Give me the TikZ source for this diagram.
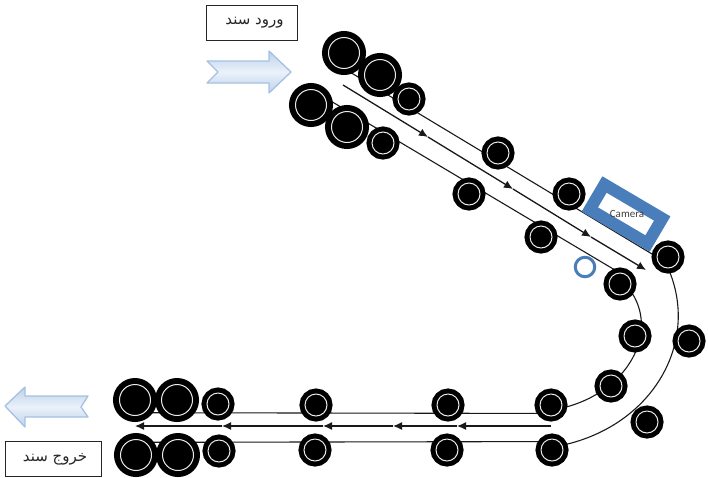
\documentclass[tikz,border=0pt]{standalone}
\usepackage{fontspec}
\setmainfont{Carlito}
\newfontfamily\arabicfont[Script=Arabic]{DejaVu Sans}
\TeXXeTstate=1
\definecolor{camerablue}{RGB}{74,126,187}
\definecolor{arrowedge}{RGB}{165,193,226}
\definecolor{arrowfill}{RGB}{190,210,235}
\definecolor{arrowmid}{RGB}{234,241,250}
\usetikzlibrary{arrows.meta,backgrounds}
\tikzset{
	bigwheel/.style={
		draw=black, circle, fill=black, inner sep=0pt, outer sep=0pt,
		minimum size=31pt, line width=6pt,
		double=black!8, double distance=1pt
	},
	smallwheel/.style={
		draw=black, circle, fill=black, inner sep=0pt, outer sep=0pt,
		minimum size=22pt, line width=5pt,
		double=black!8, double distance=1pt
	},
	textbox/.style={
		draw=black!85, rectangle, line width=1pt, inner sep=0pt,
		minimum width=#1, minimum height=35pt,
		text=black!85, font=\arabicfont\fontsize{15}{17}\selectfont
	},
	camerabox/.style={
		draw=camerablue, rectangle, line width=12pt, fill=white,
		minimum width=67pt, minimum height=29pt, inner sep=0pt
	},
	marker/.style={
		draw=camerablue, circle, line width=3pt, fill=white,
		minimum size=19.5pt, inner sep=0pt, outer sep=0pt
	},
	rail_line/.style={line width=1.1pt, black!90},
	flow_line/.style={line width=1.3pt, black!90, -{Latex[length=9pt,width=8pt]}},
	block_arrow/.style={
		draw=arrowedge, line width=1.3pt, line join=round,
		top color=arrowfill, bottom color=arrowfill, middle color=arrowmid
	}
}

\begin{document}
\begin{tikzpicture}[x=1pt,y=-1pt]
  \useasboundingbox (0,0) rectangle (708,477);
  % wheels
  \foreach \name/\px/\py in {A1/344/53,A2/380/75,B1/311/105,B2/347/127,
    L1/135/400,L2/177/400,M1/136/455,M2/178/455}
    \node[bigwheel] (\name) at (\px,\py) {};
  \foreach \name/\px/\py in {A3/409/99,A4/498/153,A5/569/194,A6/668/257,A7/689/341,A8/647/422,
    B3/383/143,B4/469/194,B5/541/237,B6/620/284,B7/635/336,B8/611/386,
    C1/551/405,C2/448/405,C3/316/405,C4/218/404,
    D1/552/450,D2/447/450,D3/315/450,D4/219/451}
    \node[smallwheel] (\name) at (\px,\py) {};
  % camera and marker
  \node[camerabox,rotate=-30.5] (cam) at (626,214) {};
  \node[text=black!75,font=\fontsize{11}{12}\selectfont] (camtext) at (627,214) {Camera};
  \node[marker] (dot) at (585,267) {};
  % labels
  \node[textbox=91pt] (in) at (251.5,23) {\hspace*{6pt}\beginR ورود سند\endR};
  \node[textbox=96pt] (out) at (53,459) {\hspace*{4pt}\beginR خروج سند\endR};
  % block arrows
  \path[block_arrow] (207,61) -- (269,61) -- (269,51) -- (291,72) -- (269,93)
    -- (269,83) -- (207,83) -- (218,72) -- cycle;
  \path[block_arrow] (5,406) -- (25,387) -- (25,396) -- (88,396) -- (81,407)
    -- (88,417) -- (25,417) -- (25,427) -- cycle;
  % rails and flow
  \coordinate (P1) at (343,85);
  \coordinate (P2) at (428,137);
  \coordinate (P3) at (513,189);
  \coordinate (P4) at (591,237);
  \coordinate (P5) at (646,270);
  \coordinate (Q1) at (551,426);
  \coordinate (Q2) at (457,426);
  \coordinate (Q3) at (393,426);
  \coordinate (Q4) at (323,426);
  \coordinate (Q5) at (222,426);
  \coordinate (Q6) at (135,426);
  \begin{scope}[on background layer]
    \draw[rail_line] (A1.south) -- (A6.west);
    \draw[rail_line] (B1.30) -- (B6.north);
    \draw[rail_line] (A6.south) .. controls (700,340) and (655,425) .. (D1.25);
    \draw[rail_line] (B6.-30) .. controls (660,330) and (630,392) .. (C1.-17);
    \draw[rail_line] (C1.-130) -- (L1.-55);
    \draw[rail_line] (D1.130) -- (M1.55);
  \end{scope}
  \foreach \from/\to in {P1/P2,P2/P3,P3/P4,P4/P5,Q1/Q2,Q2/Q3,Q3/Q4,Q4/Q5,Q5/Q6}
    \draw[flow_line] (\from) -- (\to);
\end{tikzpicture}
\end{document}
